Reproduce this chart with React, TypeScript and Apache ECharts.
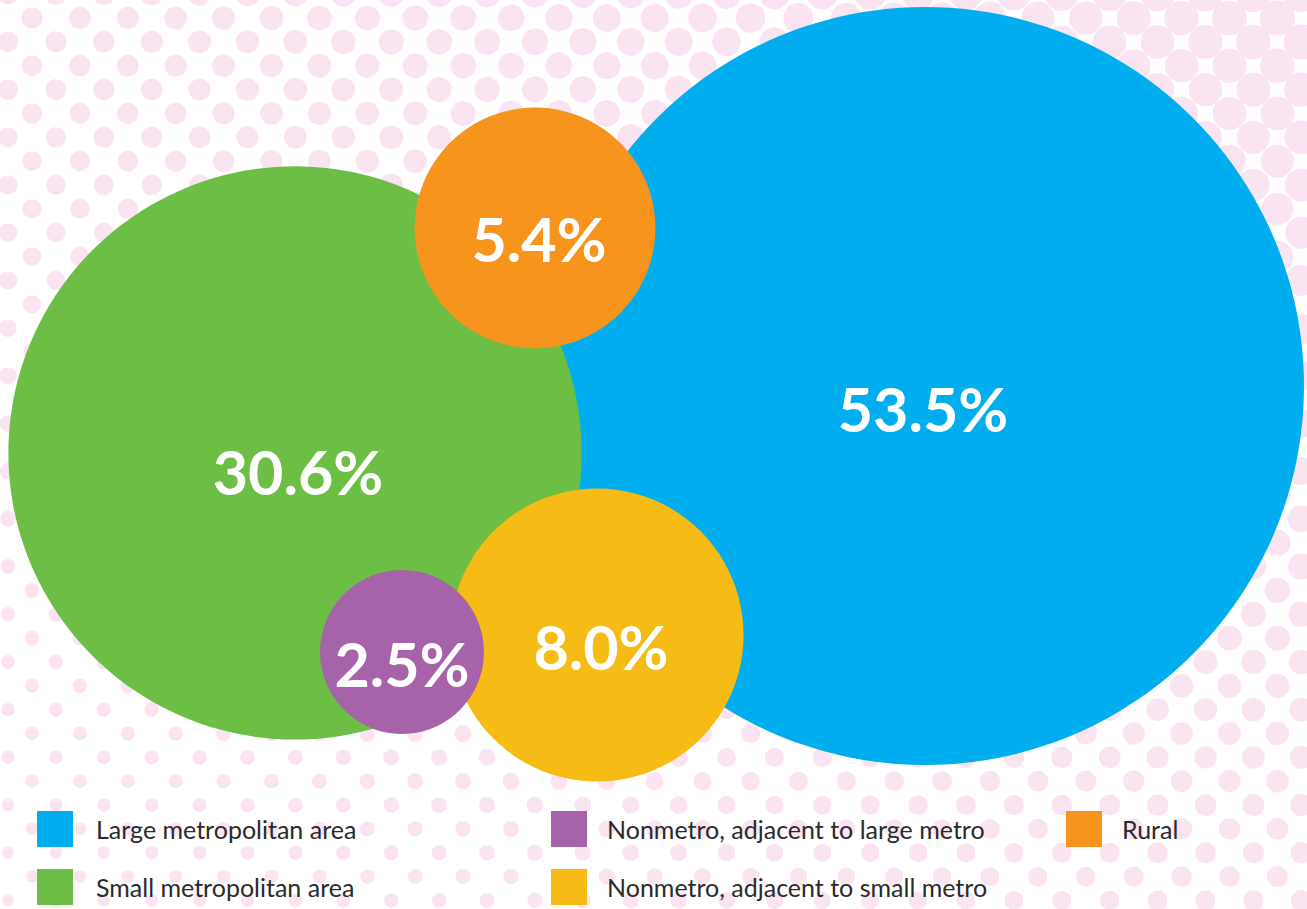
import React, { useEffect, useRef } from "react";
import * as echarts from "echarts";

// ---- Data ----
const categories = [
  "Large metropolitan area",
  "Small metropolitan area",
  "Nonmetro, adjacent to large metro",
  "Nonmetro, adjacent to small metro",
  "Rural",
];
const shares = [53.5, 30.6, 2.5, 8.0, 5.4];
// bubble centres in the chart's (pixel-like) coordinate space
const centerX = [925, 295, 402, 597, 535];
const centerY = [386, 453, 652, 635, 228];

// ---- Styling / layout ----
const colors = ["#00AEEF", "#6CBE45", "#A763A9", "#F6BB14", "#F7941E"];
const zOrder = [2, 3, 6, 5, 4];
const labelOffsets = [
  [-2, 22],
  [3, 18],
  [0, 11],
  [4, 11],
  [4, 10],
];
const legendColumns = [
  { left: 37, gap: 18, names: [categories[0], categories[1]] },
  { left: 551, gap: 15, names: [categories[2], categories[3]] },
  { left: 1066, gap: 15, names: [categories[4]] },
];

const W = 1307;
const H = 909;
const MAX_DIAMETER = 758;

function buildDots() {
  const els: any[] = [];
  const dy = 23.85;
  const dx = 47.9;
  for (let i = -1; i <= 39; i++) {
    const y = 18 + dy * i;
    const off = i % 2 === 0 ? 32 : 8;
    for (let j = -1; j <= 28; j++) {
      const x = off + dx * j;
      let r =
        10.6 + 0.0058 * (x - 50) * (1 - y / 2400) - 0.0055 * (y - 40);
      r = Math.max(4, Math.min(18, r));
      els.push({
        type: "circle",
        silent: true,
        shape: { cx: x, cy: y, r },
        style: { fill: "#FBE4F1" },
      });
    }
  }
  return els;
}

export default function App() {
  const ref = useRef<HTMLDivElement>(null);
  useEffect(() => {
    if (!ref.current) return;
    const chart = echarts.init(ref.current, null, { renderer: "svg" });
    const series = categories.map((name, i) => ({
      type: "scatter",
      name,
      z: zOrder[i],
      symbol: "circle",
      symbolSize: (val: number[]) =>
        MAX_DIAMETER * Math.sqrt(val[2] / Math.max(...shares)),
      itemStyle: { color: colors[i], opacity: 1 },
      label: {
        show: true,
        position: "inside",
        offset: labelOffsets[i],
        formatter: (p: any) => p.value[2].toFixed(1) + "%",
        color: "#ffffff",
        fontFamily: "Lato",
        fontWeight: 700,
        fontSize: 61,
      },
      emphasis: { disabled: true },
      data: [[centerX[i], centerY[i], shares[i]]],
    }));
    chart.setOption({
      animation: false,
      backgroundColor: "#ffffff",
      grid: { left: 0, right: 0, top: 0, bottom: 0 },
      xAxis: { type: "value", min: 0, max: W, show: false },
      yAxis: { type: "value", min: 0, max: H, inverse: true, show: false },
      graphic: [
        {
          type: "group",
          z: 0,
          silent: true,
          children: buildDots(),
        },
      ],
      legend: legendColumns.map((col) => ({
        orient: "vertical",
        left: col.left,
        top: 811,
        height: 98,
        padding: 0,
        itemWidth: 36,
        itemHeight: 36,
        itemGap: 22,
        icon: "rect",
        selectedMode: false,
        data: col.names,
        textStyle: {
          color: "#2A2A2A",
          fontFamily: "Lato",
          fontSize: 25,
          padding: [0, 0, 0, col.gap],
        },
      })),
      series,
    });
    return () => chart.dispose();
  }, []);
  return (
    <div
      ref={ref}
      style={{ position: "fixed", left: 0, top: 0, width: W, height: H }}
    />
  );
}
